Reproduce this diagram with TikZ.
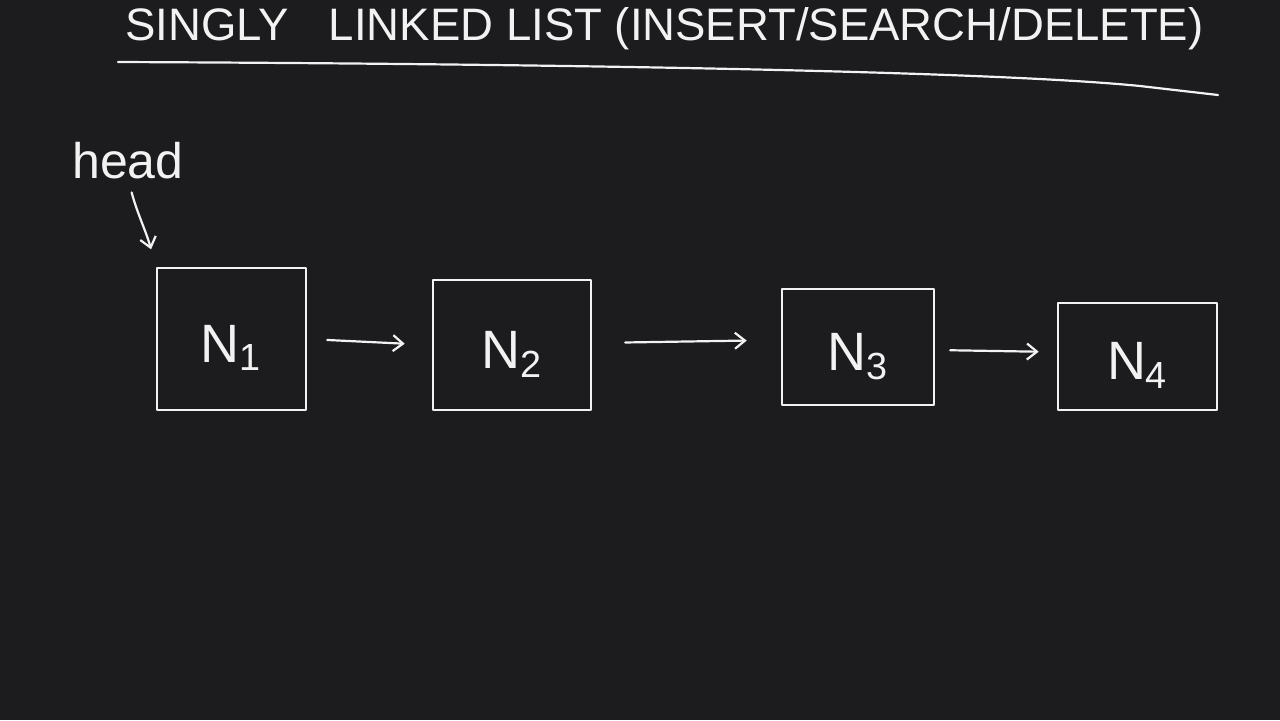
\documentclass[tikz,border=0pt]{standalone}
\usepackage{fontspec}
\setmainfont{Liberation Sans}
\usetikzlibrary{arrows.meta}
\definecolor{bg}{HTML}{1C1C1F}
\definecolor{ink}{HTML}{F2F2F2}
\begin{document}
\begin{tikzpicture}[x=0.5pt,y=-0.5pt,
  ink line/.style={draw=ink,line width=1.3pt,line cap=round,line join=round},
  nodebox/.style={ink line,inner sep=0pt,text=ink,text height=26pt,text depth=3pt,font=\fontsize{27}{30}\selectfont},
  link/.style={ink line,line width=1.1pt,-{Straight Barb[length=5pt,width=8pt,line width=1.1pt]}}]
\path[fill=bg,use as bounding box] (0,0) rectangle (1280,720);
% title
\node[anchor=base west,inner sep=0pt,text=ink] (title) at (125,40)
  {\resizebox{539pt}{!}{\fontsize{22}{24}\selectfont SINGLY\hspace{0.6em} LINKED LIST (INSERT/SEARCH/DELETE)}};
\coordinate (ulA) at (118,62);
\coordinate (ulB) at (1218,95);
\draw[ink line,line width=1.1pt] (ulA) .. controls (600,64) and (1000,72) .. (1140,86) -- (ulB);
% head
\node[anchor=base,inner sep=0pt,text=ink,font=\fontsize{25}{28}\selectfont] (head) at (128,178) {head};
% boxes
\node[nodebox,minimum width=74.5pt,minimum height=71pt] (N1) at (231.5,339) {N\textsubscript{1}};
\node[nodebox,minimum width=79pt,minimum height=65pt] (N2) at (512,345) {N\textsubscript{2}};
\node[nodebox,minimum width=76pt,minimum height=58pt] (N3) at (858,347) {N\textsubscript{3}};
\node[nodebox,minimum width=79.5pt,minimum height=53.5pt] (N4) at (1137.5,356.5) {N\textsubscript{4}};
% links
\draw[link,shorten <=10pt,shorten >=13.5pt] (N1.east) -- (N2.west);
\draw[link,shorten <=16.5pt,shorten >=17pt] ([yshift=1pt]N2.east) -- ([yshift=3.5pt]N3.west);
\draw[link,shorten <=7.5pt,shorten >=9pt] ([yshift=-1.5pt]N3.east) -- ([yshift=2.25pt]N4.west);
\draw[link,shorten <=7pt,shorten >=9pt] (head.south) to[out=-75,in=105] (N1.north west);
\end{tikzpicture}
\end{document}
